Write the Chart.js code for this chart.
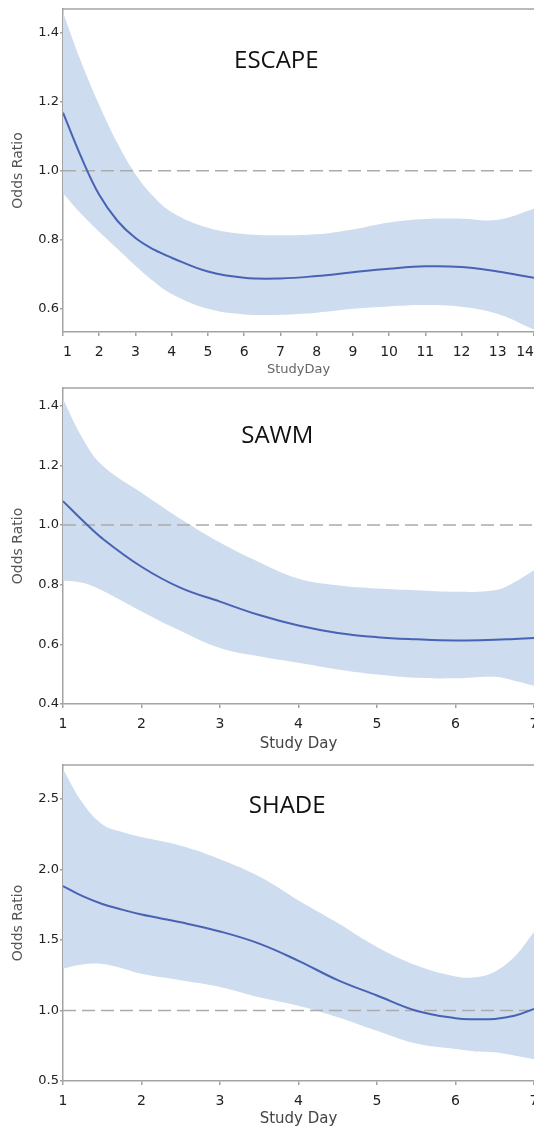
<!DOCTYPE html>
<html>
<head>
<meta charset="utf-8">
<script src="https://cdn.jsdelivr.net/npm/chart.js@4.4.1/dist/chart.umd.min.js"></script>
<style>
    html, body { margin: 0; padding: 0; background: #fff; }
    #wrap { position: relative; width: 534px; height: 1132px; overflow: hidden; }
    #wrap canvas { position: absolute; left: 0; }
</style>
</head>
<body>
<div id="wrap">
    <canvas id="escapeChart" width="534" height="378" style="top:0px"></canvas>
    <canvas id="sawmChart" width="534" height="377" style="top:378px"></canvas>
    <canvas id="shadeChart" width="534" height="377" style="top:755px"></canvas>
</div>
<script>
// ESCAPE
var escapeDays  = [1, 1.5, 2, 2.5, 3, 3.5, 4, 5, 6, 7, 8, 9, 10, 11, 12, 13, 14];
var escapeOR    = [1.168, 1.04, 0.93, 0.855, 0.805, 0.772, 0.748, 0.708, 0.69, 0.688, 0.695, 0.706, 0.716, 0.723, 0.721, 0.708, 0.69];
var escapeUpper = [1.458, 1.315, 1.19, 1.08, 0.99, 0.925, 0.88, 0.835, 0.817, 0.813, 0.816, 0.83, 0.85, 0.86, 0.861, 0.858, 0.89];
var escapeLower = [0.935, 0.875, 0.823, 0.774, 0.725, 0.68, 0.643, 0.6, 0.584, 0.583, 0.589, 0.6, 0.607, 0.611, 0.606, 0.585, 0.54];
var escapeXTicks = [1, 2, 3, 4, 5, 6, 7, 8, 9, 10, 11, 12, 13, 14];
var escapeYTicks = [0.6, 0.8, 1.0, 1.2, 1.4];

// SAWM
var sawmDays  = [1, 1.25, 1.5, 2, 2.5, 3, 3.5, 4, 4.5, 5, 5.5, 6, 6.5, 6.75, 7];
var sawmOR    = [1.08, 1.015, 0.955, 0.86, 0.789, 0.743, 0.698, 0.663, 0.638, 0.624, 0.617, 0.613, 0.615, 0.618, 0.621];
var sawmUpper = [1.422, 1.29, 1.2, 1.108, 1.02, 0.941, 0.875, 0.82, 0.798, 0.787, 0.781, 0.776, 0.781, 0.808, 0.848];
var sawmLower = [0.814, 0.806, 0.78, 0.71, 0.645, 0.588, 0.56, 0.538, 0.516, 0.499, 0.488, 0.486, 0.491, 0.478, 0.461];
var sawmXTicks = [1, 2, 3, 4, 5, 6, 7];
var sawmYTicks = [0.4, 0.6, 0.8, 1.0, 1.2, 1.4];

// SHADE
var shadeDays  = [1, 1.25, 1.5, 1.75, 2, 2.5, 3, 3.5, 4, 4.5, 5, 5.5, 6, 6.25, 6.5, 6.75, 7];
var shadeOR    = [1.882, 1.81, 1.755, 1.715, 1.68, 1.625, 1.56, 1.474, 1.352, 1.215, 1.106, 0.998, 0.945, 0.938, 0.94, 0.962, 1.011];
var shadeUpper = [2.709, 2.47, 2.32, 2.265, 2.229, 2.167, 2.072, 1.949, 1.78, 1.62, 1.45, 1.32, 1.241, 1.235, 1.275, 1.38, 1.557];
var shadeLower = [1.296, 1.325, 1.33, 1.3, 1.26, 1.215, 1.167, 1.094, 1.033, 0.952, 0.856, 0.765, 0.726, 0.71, 0.703, 0.68, 0.654];
var shadeXTicks = [1, 2, 3, 4, 5, 6, 7];
var shadeYTicks = [0.5, 1.0, 1.5, 2.0, 2.5];

var lineBlue = '#4862b4';
var bandBlue = 'rgb(205, 220, 238)';
var refGrey = '#ababab';
var axisGrey = '#a3a3a3';

Chart.defaults.font.family = '"DejaVu Sans", sans-serif';

// top edge of the plot box + the study name inside the plot
var framePlugin = {
    id: 'frame',
    afterDatasetsDraw: function (chart, args, opts) {
        var a = chart.chartArea, c = chart.ctx;
        c.save();
        c.strokeStyle = axisGrey;
        c.lineWidth = 1.5;
        c.beginPath();
        c.moveTo(a.left, a.top);
        c.lineTo(a.right, a.top);
        c.stroke();
        c.fillStyle = '#111';
        c.font = '24px "Open Sans"';
        c.textAlign = 'center';
        c.textBaseline = 'middle';
        c.fillText(opts.text, a.left + opts.fx * (a.right - a.left), a.top + opts.fy * (a.bottom - a.top));
        c.restore();
    }
};

function drawPanel(canvasId, p) {
    var ctx = document.getElementById(canvasId).getContext('2d');
    var pts = function (ys) {
        return p.days.map(function (d, i) { return { x: d, y: ys[i] }; });
    };
    var xMin = p.xTicks[0], xMax = p.xTicks[p.xTicks.length - 1];
    new Chart(ctx, {
        type: 'line',
        data: {
            datasets: [
                { data: pts(p.est), borderColor: lineBlue, borderWidth: 2, pointRadius: 0, fill: false, tension: 0.4 },
                { data: [{ x: xMin, y: 1 }, { x: xMax, y: 1 }], borderColor: refGrey, borderWidth: 1.5, borderDash: [13, 6], pointRadius: 0, fill: false },
                { data: pts(p.upper), borderWidth: 0, borderColor: 'rgba(0,0,0,0)', backgroundColor: bandBlue, pointRadius: 0, fill: '+1', tension: 0.4 },
                { data: pts(p.lower), borderWidth: 0, borderColor: 'rgba(0,0,0,0)', pointRadius: 0, fill: false, tension: 0.4 }
            ]
        },
        options: {
            responsive: false,
            animation: false,
            events: [],
            layout: { padding: { top: p.padTop, left: 0, right: 0, bottom: 0 } },
            plugins: {
                legend: { display: false },
                tooltip: { enabled: false },
                frame: { text: p.name, fx: p.fx, fy: p.fy }
            },
            scales: {
                x: {
                    type: 'linear',
                    min: xMin,
                    max: xMax,
                    afterBuildTicks: function (s) { s.ticks = p.xTicks.map(function (v) { return { value: v }; }); },
                    afterFit: function (s) { s.height = p.xAxisH; s.paddingLeft = 0; s.paddingRight = 0; },
                    grid: { drawOnChartArea: false, tickLength: 4, color: axisGrey, lineWidth: 1.5 },
                    border: { color: axisGrey, width: 1.5 },
                    ticks: { color: '#222', font: { size: 14 }, padding: p.xTickPad, maxRotation: 0, autoSkip: false, align: p.xAlign },
                    title: { display: true, text: p.xTitle, color: p.xTitleColor, font: { size: p.xTitleSize }, padding: { top: 0, bottom: p.xTitlePad } }
                },
                y: {
                    min: p.yMin,
                    max: p.yMax,
                    afterBuildTicks: function (s) { s.ticks = p.yTicks.map(function (v) { return { value: v }; }); },
                    afterFit: function (s) { s.width = 63; s.paddingTop = 0; s.paddingBottom = 0; },
                    grid: { drawOnChartArea: false, tickLength: 3, color: axisGrey, lineWidth: 1.5 },
                    border: { color: axisGrey, width: 1.5 },
                    ticks: { color: '#222', font: { size: 13 }, padding: 1, callback: function (v) { return v.toFixed(1); } },
                    title: { display: true, text: 'Odds Ratio', color: '#555', font: { size: 14 }, padding: { top: 10, bottom: 0 } }
                }
            }
        },
        plugins: [framePlugin]
    });
}

drawPanel('escapeChart', {
    name: 'ESCAPE', fx: 0.453, fy: 0.16,
    days: escapeDays, est: escapeOR, upper: escapeUpper, lower: escapeLower,
    xTicks: escapeXTicks, yTicks: escapeYTicks, yMin: 0.533, yMax: 1.468,
    padTop: 9, xAxisH: 46, xTickPad: 8, xAlign: 'inner',
    xTitle: 'StudyDay', xTitleColor: '#666', xTitleSize: 13, xTitlePad: 1
});

drawPanel('sawmChart', {
    name: 'SAWM', fx: 0.455, fy: 0.152,
    days: sawmDays, est: sawmOR, upper: sawmUpper, lower: sawmLower,
    xTicks: sawmXTicks, yTicks: sawmYTicks, yMin: 0.4, yMax: 1.459,
    padTop: 10, xAxisH: 51, xTickPad: 8, xAlign: 'center',
    xTitle: 'Study Day', xTitleColor: '#444', xTitleSize: 15, xTitlePad: 2
});

drawPanel('shadeChart', {
    name: 'SHADE', fx: 0.476, fy: 0.13,
    days: shadeDays, est: shadeOR, upper: shadeUpper, lower: shadeLower,
    xTicks: shadeXTicks, yTicks: shadeYTicks, yMin: 0.5, yMax: 2.74,
    padTop: 10, xAxisH: 51, xTickPad: 8, xAlign: 'center',
    xTitle: 'Study Day', xTitleColor: '#444', xTitleSize: 15, xTitlePad: 4
});
</script>
</body>
</html>
